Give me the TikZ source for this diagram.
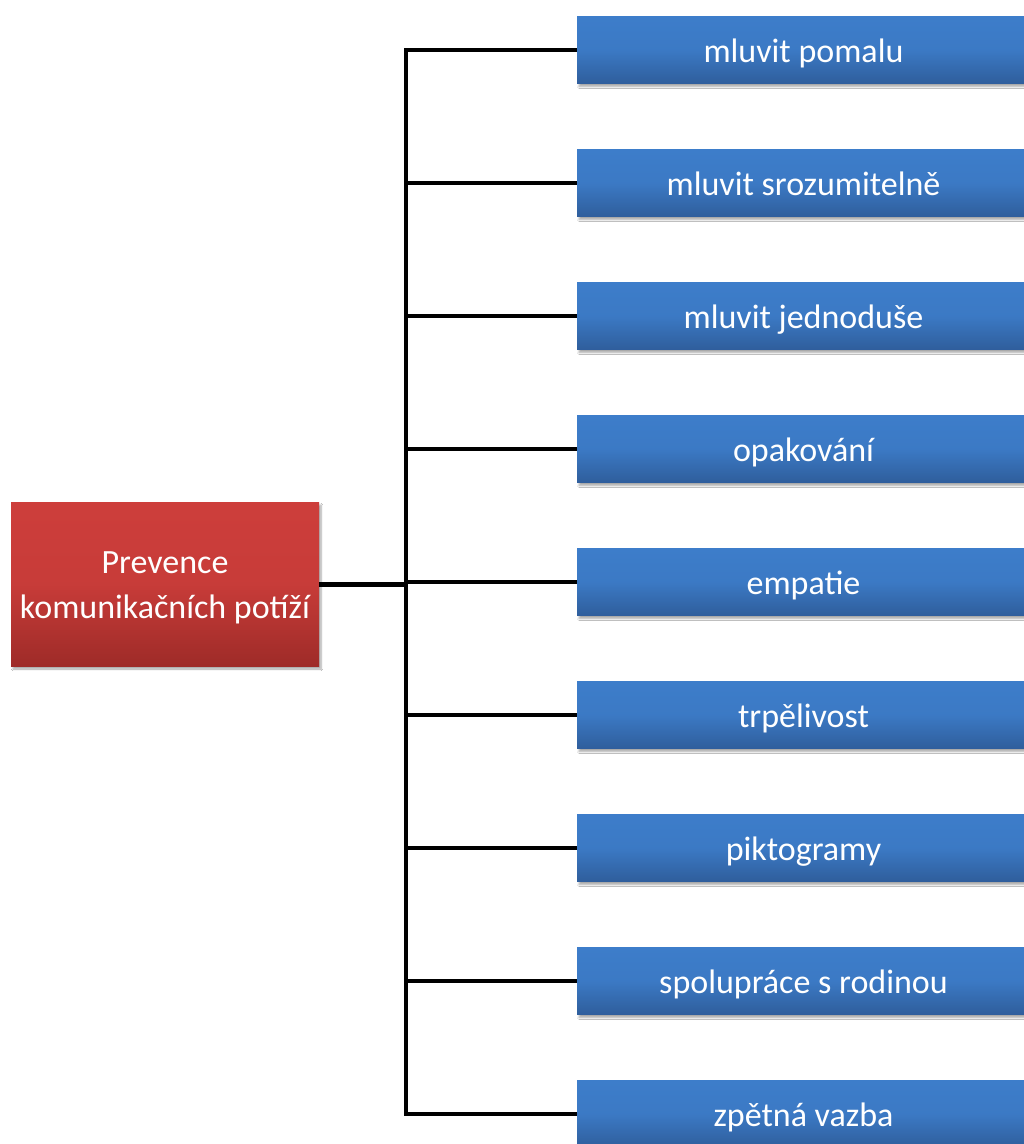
\documentclass[tikz,border=0pt]{standalone}
\usepackage{fontspec}
\setmainfont{Carlito}
\usetikzlibrary{shadows.blur}
\definecolor{bluetop}{HTML}{3D7DCA}
\definecolor{bluebot}{HTML}{2F5E9C}
\definecolor{redtop}{HTML}{CD3E3B}
\definecolor{redbot}{HTML}{9E2B28}
\tikzset{
  leaf/.style={rectangle, minimum width=453pt, minimum height=67pt,
    top color=bluetop, bottom color=bluebot, middle color=bluetop!88!bluebot,
    text=white, font=\fontsize{34}{40}\selectfont, inner sep=0pt,
    text height=24pt, text depth=0pt,
    blur shadow={shadow xshift=2pt, shadow yshift=-3pt, shadow blur steps=6, shadow opacity=35}},
  rootbox/.style={rectangle, minimum width=308pt, minimum height=164pt,
    top color=redtop, bottom color=redbot, middle color=redtop!88!redbot,
    text=white, align=center, font=\fontsize{34}{45}\selectfont, inner sep=0pt,
    text height=76pt, text depth=8pt,
    blur shadow={shadow xshift=2pt, shadow yshift=-3pt, shadow blur steps=6, shadow opacity=35}},
  conn/.style={draw=black, line width=3.6pt, line join=miter},
  rootconn/.style={draw=black, line width=5pt}
}
\begin{document}
\begin{tikzpicture}[x=1pt, y=-1pt]
  \useasboundingbox (0,0) rectangle (1024,1144);
  \clip (0,0) rectangle (1024,1144);
  \fill[white] (0,0) rectangle (1024,1144);

  % central topic
  \node[rootbox] (root) at (165,584) {Prevence\\komunikačních potíží};

  % branches
  \node[leaf] (b1) at (803.5,50)   {mluvit pomalu};
  \node[leaf] (b2) at (803.5,183)  {mluvit srozumitelně};
  \node[leaf] (b3) at (803.5,316)  {mluvit jednoduše};
  \node[leaf] (b4) at (803.5,449)  {opakování};
  \node[leaf] (b5) at (803.5,582)  {empatie};
  \node[leaf] (b6) at (803.5,715)  {trpělivost};
  \node[leaf] (b7) at (803.5,848)  {piktogramy};
  \node[leaf] (b8) at (803.5,981)  {spolupráce s rodinou};
  \node[leaf] (b9) at (803.5,1114) {zpětná vazba};

  % connector tree
  \coordinate (trunk) at (406,584);
  \draw[conn] (b1.west) -- (b1.west -| trunk) -- (b9.west -| trunk) -- (b9.west);
  \foreach \i in {2,...,8}
    \draw[conn] (b\i.west -| trunk) -- (b\i.west);
  \draw[rootconn] (root.east) -- (trunk);
\end{tikzpicture}
\end{document}
